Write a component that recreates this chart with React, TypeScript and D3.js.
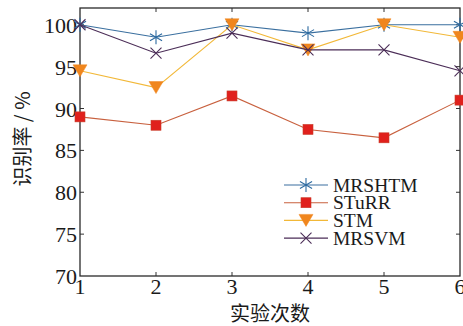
import React from "react";
import * as d3 from "d3";

const runs = [1, 2, 3, 4, 5, 6];
const mrshtm = [100, 98.5, 100, 99, 100, 100];
const sturr = [89, 88, 91.5, 87.5, 86.5, 91];
const stm = [94.5, 92.5, 100, 97, 100, 98.5];
const mrsvm = [100, 96.6, 99, 97, 97, 94.5];
const yTicks = [70, 75, 80, 85, 90, 95, 100];
const seriesNames = ["MRSHTM", "STuRR", "STM", "MRSVM"];

const W = 463;
const H = 326;
const left = 80;
const right = 460;
const top = 8;
const bottom = 276;

const serif = "'Liberation Serif', 'Times New Roman', serif";
const cjk = "'Noto Sans CJK SC', sans-serif";

const series = [
  { name: seriesNames[0], values: mrshtm, line: "#3a6f9f", fill: "#2c6aa0", marker: "star" },
  { name: seriesNames[1], values: sturr, line: "#c8603e", fill: "#e0201c", marker: "square" },
  { name: seriesNames[2], values: stm, line: "#f2b838", fill: "#f0861e", marker: "tri" },
  { name: seriesNames[3], values: mrsvm, line: "#4b2d57", fill: "#4b2d57", marker: "x" },
];

function Marker({ type, x, y, fill }: { type: string; x: number; y: number; fill: string }) {
  if (type === "square") {
    return <rect x={x - 5} y={y - 5} width={10} height={10} fill={fill} stroke="#c83c2a" strokeWidth={0.6} />;
  }
  if (type === "tri") {
    return <path d={`M${x - 7},${y - 6}L${x + 7},${y - 6}L${x},${y + 6}Z`} fill={fill} stroke={fill} strokeWidth={0.5} />;
  }
  if (type === "x") {
    const r = 5.5;
    return (
      <path d={`M${x - r},${y - r}L${x + r},${y + r}M${x - r},${y + r}L${x + r},${y - r}`} stroke={fill} strokeWidth={1.1} />
    );
  }
  // six-armed asterisk
  const r = 7;
  const d = d3.range(3)
    .map((i) => {
      const a = (Math.PI / 3) * i + Math.PI / 2;
      return `M${x + r * Math.cos(a)},${y + r * Math.sin(a)}L${x - r * Math.cos(a)},${y - r * Math.sin(a)}`;
    })
    .join("");
  return <path d={d} stroke={fill} strokeWidth={1.1} />;
}

export default function App() {
  const x = d3.scaleLinear().domain([1, 6]).range([left, right]);
  const y = d3.scaleLinear().domain([70, 102]).range([bottom, top]);
  const line = d3.line<number>().x((_, i) => x(runs[i])).y((d) => y(d));

  return (
    <svg width={W} height={H} style={{ position: "absolute", left: 0, top: 0, background: "#fff" }}>
      {/* ticks */}
      {runs.slice(1, -1).map((r) => (
        <g key={"xt" + r}>
          <line x1={x(r)} x2={x(r)} y1={bottom} y2={bottom - 4} stroke="#333" strokeWidth={1} />
          <line x1={x(r)} x2={x(r)} y1={top} y2={top + 4} stroke="#333" strokeWidth={1} />
        </g>
      ))}
      {yTicks.slice(1).map((t) => (
        <g key={"yt" + t}>
          <line x1={left} x2={left + 4} y1={y(t)} y2={y(t)} stroke="#333" strokeWidth={1} />
          <line x1={right} x2={right - 4} y1={y(t)} y2={y(t)} stroke="#333" strokeWidth={1} />
        </g>
      ))}
      <rect x={left} y={top} width={right - left} height={bottom - top} fill="none" stroke="#2a2a2a" strokeWidth={1.3} />

      {runs.map((r) => (
        <text key={"xl" + r} x={x(r)} y={bottom + 18} textAnchor="middle" fontFamily={serif} fontSize={22} fill="#1a1a1a">
          {r}
        </text>
      ))}
      {yTicks.map((t) => (
        <text key={"yl" + t} x={left - 3} y={y(t) + 8} textAnchor="end" fontFamily={serif} fontSize={22} fill="#1a1a1a">
          {t}
        </text>
      ))}

      {series.map((s) => (
        <g key={s.name}>
          <path d={line(s.values) || ""} fill="none" stroke={s.line} strokeWidth={1.1} />
          {s.values.map((v, i) => (
            <Marker key={i} type={s.marker} x={x(runs[i])} y={y(v)} fill={s.fill} />
          ))}
        </g>
      ))}

      {/* legend */}
      {series.map((s, i) => {
        const ly = 185 + i * 17.7;
        return (
          <g key={"lg" + s.name}>
            <line x1={284} x2={328} y1={ly} y2={ly} stroke={s.line} strokeWidth={1.1} />
            <Marker type={s.marker} x={306} y={ly} fill={s.fill} />
            <text x={333} y={ly + 6.5} fontFamily={serif} fontSize={19.5} fill="#1a1a1a">
              {s.name}
            </text>
          </g>
        );
      })}

      <text x={270} y={321} textAnchor="middle" fontFamily={cjk} fontSize={20} fill="#1a1a1a">
        实验次数
      </text>
      <text
        transform={`translate(30,139) rotate(-90)`}
        textAnchor="middle"
        fontFamily={cjk}
        fontSize={20}
        fill="#1a1a1a"
      >
        识别率 / %
      </text>
    </svg>
  );
}
